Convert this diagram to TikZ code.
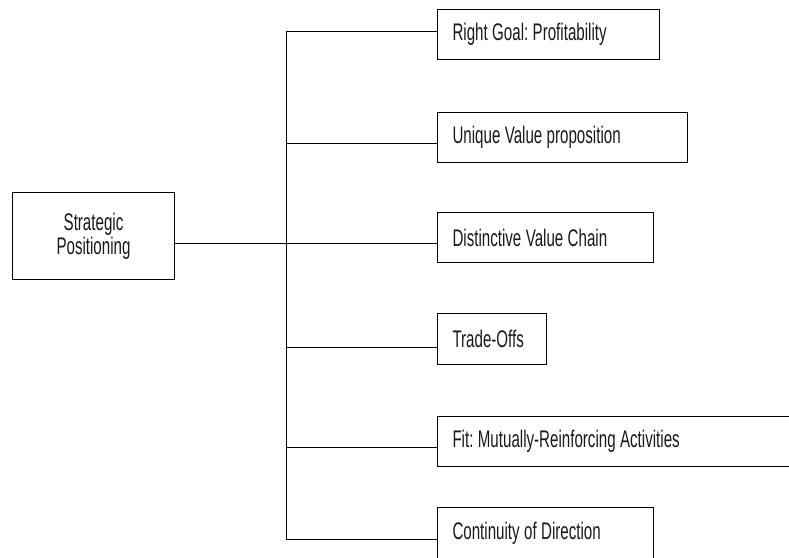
\documentclass[tikz,border=0pt]{standalone}
\usepackage{fontspec}
\setmainfont{Liberation Sans}[FakeStretch=0.63]
\newcommand\myboxfont{\fontsize{24}{24}\selectfont}
\newcommand\mytightspace{\spaceskip 4.4pt\relax\xspaceskip 4.4pt\relax}
\begin{document}
\frenchspacing
\begin{tikzpicture}[x=1pt,y=-1pt,line width=1pt,
  txt/.style={font=\myboxfont, text=black!90, execute at begin node=\mytightspace},
  box/.style={draw, rectangle, txt, anchor=north west, inner xsep=15pt, inner ysep=0pt, minimum height=50pt, align=left},
  mainbox/.style={draw, rectangle, txt, anchor=north west, inner sep=0pt, minimum width=162pt, minimum height=87pt, align=center},
  wire/.style={draw=black}]
\useasboundingbox (0,0) rectangle (789,557);
\clip (0,0) rectangle (789,557);

\node[mainbox] (main) at (12,192) {Strategic\\Positioning};

\node[box, text width=192pt] (b1) at (437,9)   {Right Goal: Profitability};
\node[box, text width=220pt] (b2) at (437,112) {Unique Value proposition};
\node[box, text width=186pt] (b3) at (437,212) {Distinctive Value Chain};
\node[box, text width=79pt, minimum height=51pt]  (b4) at (437,313) {Trade-Offs};
\node[box, text width=370pt] (b5) at (437,416) {Fit: Mutually-Reinforcing Activities};
\node[box, text width=186pt, minimum height=52pt] (b6) at (437,507) {Continuity of Direction};

\coordinate (t1) at (286,31);
\coordinate (t2) at (286,143);
\coordinate (t3) at (286,243);
\coordinate (t4) at (286,347);
\coordinate (t5) at (286,447);
\coordinate (t6) at (286,539);

\draw[wire] (t1) -- (t6);
\draw[wire] (main.east |- t3) -- (t3);
\draw[wire] (t1) -- (t1 -| b1.west);
\draw[wire] (t2) -- (t2 -| b2.west);
\draw[wire] (t3) -- (t3 -| b3.west);
\draw[wire] (t4) -- (t4 -| b4.west);
\draw[wire] (t5) -- (t5 -| b5.west);
\draw[wire] (t6) -- (t6 -| b6.west);
\end{tikzpicture}
\end{document}
